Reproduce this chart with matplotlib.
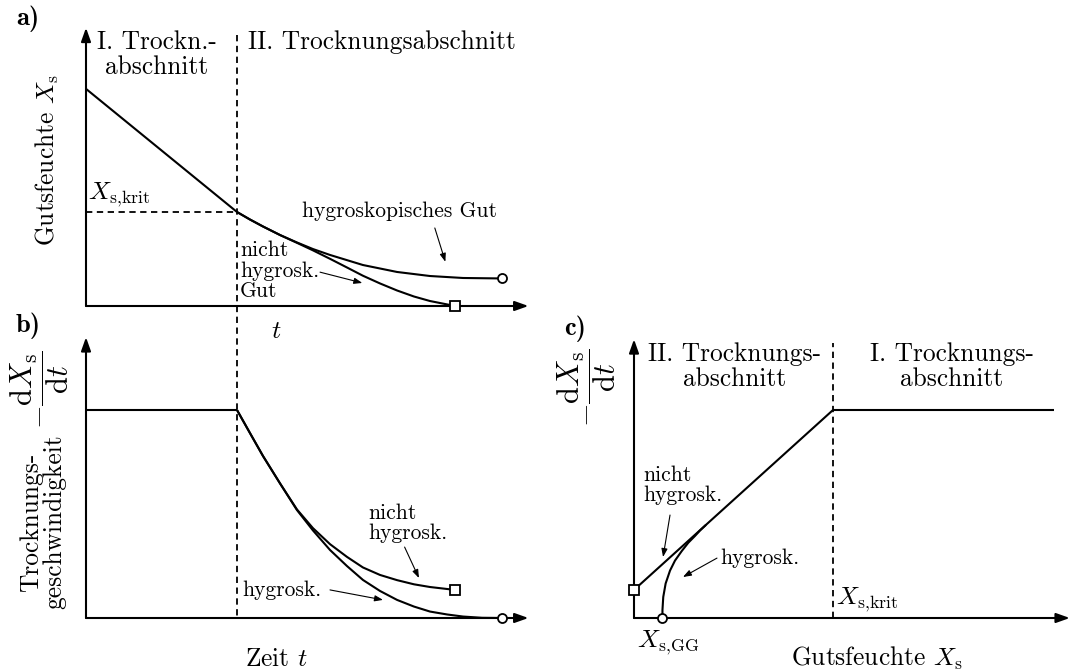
import matplotlib
matplotlib.use("Agg")
import matplotlib.pyplot as plt

plt.rcParams["font.family"] = ["cmr10", "DejaVu Serif"]
plt.rcParams["mathtext.fontset"] = "cm"
plt.rcParams["axes.unicode_minus"] = False

W, H = 1069, 671

# --- a) Gutsfeuchte über Zeit (t_krit = 1, X_krit = 1)
t_I = [0.0, 1.0]
X_I = [2.31, 1.0]
t_a_hyg = [1.000, 1.086, 1.172, 1.285, 1.397, 1.503, 1.616, 1.834, 2.060, 2.278, 2.497, 2.755]
X_a_hyg = [1.000, 0.920, 0.846, 0.755, 0.676, 0.606, 0.543, 0.436, 0.362, 0.319, 0.298, 0.293]
t_a_nh = [1.000, 1.086, 1.172, 1.285, 1.397, 1.503, 1.616, 1.728, 1.834, 1.947, 2.060, 2.172, 2.278, 2.444]
X_a_nh = [1.000, 0.920, 0.846, 0.755, 0.672, 0.592, 0.502, 0.410, 0.322, 0.240, 0.165, 0.101, 0.053, 0.000]

# --- b) Trocknungsgeschwindigkeit über Zeit (Rate im I. Abschnitt = 1)
r_I = [1.0, 1.0]
t_b_hyg = [1.000, 1.086, 1.172, 1.285, 1.397, 1.503, 1.616, 1.728, 1.834, 1.947, 2.060,
           2.172, 2.278, 2.391, 2.497, 2.623, 2.755]
r_b_hyg = [1.000, 0.889, 0.779, 0.647, 0.519, 0.421, 0.327, 0.250, 0.183, 0.130, 0.087,
           0.055, 0.031, 0.017, 0.007, 0.001, 0.000]
t_b_nh = [1.000, 1.086, 1.172, 1.285, 1.397, 1.503, 1.616, 1.728, 1.834, 1.947, 2.060, 2.172, 2.278, 2.444]
r_b_nh = [1.000, 0.889, 0.779, 0.647, 0.522, 0.432, 0.355, 0.294, 0.243, 0.207, 0.182, 0.162, 0.149, 0.135]

# --- c) Trocknungsgeschwindigkeit über Gutsfeuchte (X_krit = 1)
X_c_I = [1.0, 2.11]
X_c_nh = [0.0, 1.0]
r_c_nh = [0.135, 1.0]
X_c_hyg = [0.143, 0.143, 0.147, 0.159, 0.181, 0.206, 0.240, 0.273, 0.307, 0.332, 0.362]
r_c_hyg = [0.000, 0.038, 0.101, 0.166, 0.228, 0.276, 0.322, 0.362, 0.395, 0.421, 0.448]

BIG = 18.3
SMALL = 15.5
LW = 1.5
DASH = (0, (3.5, 2.5))

fig = plt.figure(figsize=(W / 100, H / 100), dpi=100)


def panel(left, bottom, right, top, xs, ys):
    # pixel box; one data unit = xs (ys) pixels
    ax = fig.add_axes([left / W, 1 - bottom / H, (right - left) / W, (bottom - top) / H])
    ax.set_xlim(0, (right - left) / xs)
    ax.set_ylim(0, (bottom - top) / ys)
    ax.axis("off")
    return ax


def axis_arrows(ax, xend, yend):
    style = "-|>,head_length=0.45,head_width=0.16"
    for end in [(xend, 0), (0, yend)]:
        ax.annotate("", xy=end, xytext=(0, 0), annotation_clip=False,
                    arrowprops=dict(arrowstyle=style, color="k", lw=LW,
                                    mutation_scale=18, shrinkA=0, shrinkB=0))


def pointer(ax, tail, head):
    ax.annotate("", xy=head, xytext=tail, annotation_clip=False,
                arrowprops=dict(arrowstyle="-|>,head_length=0.55,head_width=0.2", color="k",
                                lw=0.8, mutation_scale=9, shrinkA=0, shrinkB=0))


def ftext(px, py, s, **kw):
    kw.setdefault("fontsize", BIG)
    fig.text(px / W, 1 - py / H, s, **kw)


def end_marker(ax, x, y, m):
    ax.plot([x], [y], m, ms=6.5, mfc="white", mec="k", mew=1.3, clip_on=False, zorder=5)


curve = dict(color="k", lw=LW, clip_on=False, solid_capstyle="butt")
dashed = dict(color="k", lw=1.3, ls=DASH, clip_on=False)
frac = "$-\\dfrac{\\mathrm{d}X_\\mathrm{s}}{\\mathrm{d}t}$"

# a)
ax_a = panel(86, 306, 540, 20, 151, 94)
axis_arrows(ax_a, 2.93, 2.96)
ax_a.plot([1, 1], [2.88, -3.33], **dashed)
ax_a.plot([0, 1], [1, 1], **dashed)
ax_a.plot(t_I, X_I, **curve)
ax_a.plot(t_a_hyg, X_a_hyg, **curve)
ax_a.plot(t_a_nh, X_a_nh, **curve)
end_marker(ax_a, t_a_hyg[-1], X_a_hyg[-1], "o")
end_marker(ax_a, t_a_nh[-1], X_a_nh[-1], "s")
pointer(ax_a, (2.31, 0.83), (2.38, 0.47))
pointer(ax_a, (1.55, 0.36), (1.83, 0.245))

# b)
ax_b = panel(86, 618, 540, 330, 151, 208)
axis_arrows(ax_b, 2.93, 1.35)
ax_b.plot(t_I, r_I, **curve)
ax_b.plot(t_b_hyg, r_b_hyg, **curve)
ax_b.plot(t_b_nh, r_b_nh, **curve)
end_marker(ax_b, t_b_hyg[-1], r_b_hyg[-1], "o")
end_marker(ax_b, t_b_nh[-1], r_b_nh[-1], "s")
pointer(ax_b, (2.11, 0.341), (2.205, 0.192))
pointer(ax_b, (1.616, 0.135), (1.967, 0.087))

# c)
ax_c = panel(634, 618, 1069, 330, 199, 208)
axis_arrows(ax_c, 2.19, 1.34)
ax_c.plot([1, 1], [0, 1.32], **dashed)
ax_c.plot(X_c_I, r_I, **curve)
ax_c.plot(X_c_nh, r_c_nh, **curve)
ax_c.plot(X_c_hyg, r_c_hyg, **curve)
end_marker(ax_c, X_c_hyg[0], r_c_hyg[0], "o")
end_marker(ax_c, X_c_nh[0], r_c_nh[0], "s")
pointer(ax_c, (0.181, 0.495), (0.146, 0.293))
pointer(ax_c, (0.417, 0.288), (0.246, 0.197))

# texts
bold = dict(family="cmb10", fontsize=19, va="center")
ftext(16, 19, "a)", **bold)
ftext(16, 326, "b)", **bold)
ftext(564, 329, "c)", **bold)

ftext(157, 30, "I. Trockn.-\nabschnitt", ha="center", va="top", multialignment="center",
      linespacing=1.1)
ftext(382, 30, "II. Trocknungsabschnitt", ha="center", va="top")
ftext(47, 160, "Gutsfeuchte $X_\\mathrm{s}$", rotation=90, ha="center", va="center")
ftext(88, 209, "$X_\\mathrm{s,\\!krit}$", ha="left", va="bottom")
ftext(400, 211, "hygroskopisches Gut", ha="center", va="center", fontsize=SMALL)
ftext(240, 271, "nicht\nhygrosk.\nGut", ha="left", va="center", fontsize=SMALL,
      linespacing=1.05)
ftext(276, 331, "$t$", ha="center", va="center")

ftext(43, 522, "Trocknungs-\ngeschwindigkeit", rotation=90, ha="center", va="center",
      multialignment="center", linespacing=1.0)
ftext(40, 390, frac, rotation=90, ha="center", va="center", fontsize=22)
ftext(368, 523, "nicht\nhygrosk.", ha="left", va="center", fontsize=SMALL, linespacing=1.0)
ftext(242, 590, "hygrosk.", ha="left", va="center", fontsize=SMALL)
ftext(276, 666, "Zeit $t$", ha="center", va="baseline")

ftext(735, 342, "II. Trocknungs-\nabschnitt", ha="center", va="top", multialignment="center",
      linespacing=1.1)
ftext(952, 342, "I. Trocknungs-\nabschnitt", ha="center", va="top", multialignment="center",
      linespacing=1.1)
ftext(587, 388, frac, rotation=90, ha="center", va="center", fontsize=22)
ftext(643, 485, "nicht\nhygrosk.", ha="left", va="center", fontsize=SMALL, linespacing=1.0)
ftext(720, 558, "hygrosk.", ha="left", va="center", fontsize=SMALL)
ftext(836, 614, "$X_\\mathrm{s,\\!krit}$", ha="left", va="bottom")
ftext(637, 628, "$X_\\mathrm{s,\\!GG}$", ha="left", va="top")
ftext(877, 666, "Gutsfeuchte $X_\\mathrm{s}$", ha="center", va="baseline")

fig.savefig("out.png", dpi=100)
